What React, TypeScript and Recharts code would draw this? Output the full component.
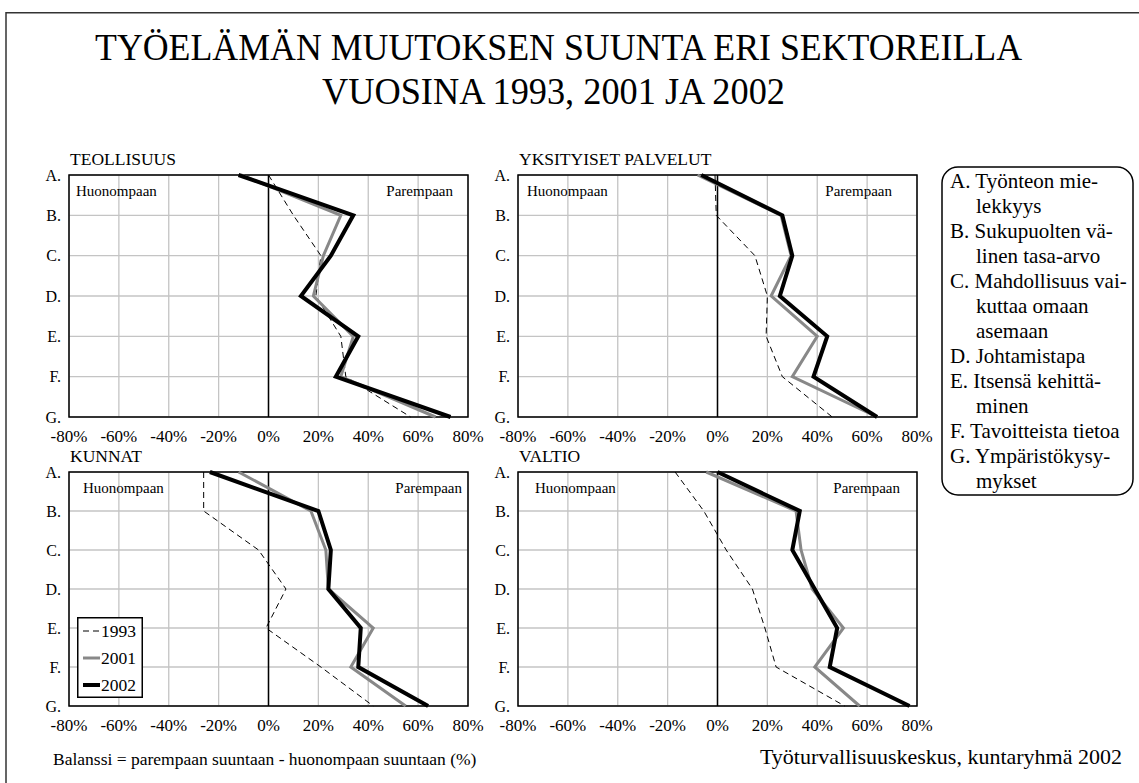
import React from 'react';
import { LineChart, Line, XAxis, YAxis, CartesianGrid, ReferenceLine, ReferenceArea, Legend } from 'recharts';

const CATEGORIES = ['A.', 'B.', 'C.', 'D.', 'E.', 'F.', 'G.'];
const CAT_INDEX = [0, 1, 2, 3, 4, 5, 6];
const X_TICKS = [-80, -60, -40, -20, 0, 20, 40, 60, 80];
const YEARS = ['1993', '2001', '2002'];

// balance values (%) per item A..G
const teollisuus1993 = [0, 10, 21, 19, 29, 31, 57];
const teollisuus2001 = [-11, 29, 22, 18, 34, 29, 67];
const teollisuus2002 = [-12, 34, 25, 13, 36, 27, 73];

const palvelut1993 = [-1, -0.5, 15, 20, 19.5, 26, 46];
const palvelut2001 = [-8, 25.5, 29.5, 21.5, 40, 30, 64];
const palvelut2002 = [-6.5, 26, 30, 25, 44, 38.5, 64];

const kunnat1993 = [-26, -26, -4, 7, -1, 21, 42];
const kunnat2001 = [-12, 17, 23, 24, 42, 33, 55];
const kunnat2002 = [-23.5, 20, 25, 24, 37, 36, 64];

const valtio1993 = [-17, -5.5, 3.5, 14, 19, 23.5, 51];
const valtio2001 = [-4.5, 31.5, 33.5, 38, 50.5, 39, 57];
const valtio2002 = [0, 33, 30, 39, 48, 45, 77];

const ITEM_LINES = [
  ['A. Työnteon mie-', 'lekkyys'],
  ['B. Sukupuolten vä-', 'linen tasa-arvo'],
  ['C. Mahdollisuus vai-', 'kuttaa omaan', 'asemaan'],
  ['D. Johtamistapa'],
  ['E. Itsensä kehittä-', 'minen'],
  ['F. Tavoitteista tietoa'],
  ['G. Ympäristökysy-', 'mykset'],
];

const SERIF = "'Liberation Serif', 'Times New Roman', serif";

const STYLE: Record<string, { stroke: string; width: number; dash?: string }> = {
  '1993': { stroke: '#000', width: 1, dash: '6 4' },
  '2001': { stroke: '#888', width: 3 },
  '2002': { stroke: '#000', width: 4 },
};

const PANELS = [
  { title: 'TEOLLISUUS', values: [teollisuus1993, teollisuus2001, teollisuus2002], left: 0, plotTop: 175, plotHeight: 242, huono: 7, pare: 15, legend: false },
  { title: 'YKSITYISET PALVELUT', values: [palvelut1993, palvelut2001, palvelut2002], left: 449, plotTop: 175, plotHeight: 242, huono: 9, pare: 25, legend: false },
  { title: 'KUNNAT', values: [kunnat1993, kunnat2001, kunnat2002], left: 0, plotTop: 472, plotHeight: 234, huono: 14, pare: 6, legend: true },
  { title: 'VALTIO', values: [valtio1993, valtio2001, valtio2002], left: 449, plotTop: 472, plotHeight: 234, huono: 17, pare: 17, legend: false },
];

const YearLegend = () => (
  <svg width={66} height={81} style={{ display: 'block', fontFamily: SERIF }}>
    <rect x={0.75} y={0.75} width={64.5} height={79.5} fill="#fff" stroke="#000" strokeWidth={1.5} />
    {YEARS.map((y, i) => (
      <g key={y}>
        <line x1={6} x2={23} y1={14 + i * 27} y2={14 + i * 27} stroke={STYLE[y].stroke}
          strokeWidth={STYLE[y].width} strokeDasharray={STYLE[y].dash} />
        <text x={24} y={14 + i * 27} dominantBaseline="central" style={{ fontFamily: SERIF, fontSize: 17.5 }} fill="#000">{y}</text>
      </g>
    ))}
  </svg>
);

const Panel = ({ p }: any) => {
  const data = CAT_INDEX.map((idx) => ({
    idx,
    y1993: p.values[0][idx],
    y2001: p.values[1][idx],
    y2002: p.values[2][idx],
  }));
  const xTick = { fill: '#000', fontSize: 17, fontFamily: SERIF, style: { fontFamily: SERIF } };
  const yTick = { fill: '#000', fontSize: 16, fontFamily: SERIF, style: { fontFamily: SERIF } };

  return (
    <div style={{ position: 'absolute', left: p.left, top: p.plotTop - 25 }}>
      <LineChart width={500} height={p.plotHeight + 58} data={data} layout="vertical"
        margin={{ top: 25, right: 32, left: 19, bottom: 3 }} style={{ fontFamily: SERIF }}>
        <CartesianGrid stroke="#c4c4c4" strokeWidth={1.3} />
        <XAxis type="number" domain={[-80, 80]} ticks={X_TICKS} interval={0} axisLine={false} tickLine={false}
          tick={xTick} tickMargin={7} tickFormatter={(v) => `${v}%`} height={30} allowDataOverflow />
        <YAxis type="number" dataKey="idx" domain={[0, 6]} ticks={CAT_INDEX} interval={0}
          axisLine={false} tickLine={false} tick={yTick} tickFormatter={(v) => CATEGORIES[v]} width={50} />
        <ReferenceArea x1={-80} x2={80} y1={0} y2={6} fill="none" stroke="#000" strokeWidth={1.5} strokeOpacity={1} fillOpacity={0} />
        <ReferenceLine x={0} stroke="#000" strokeWidth={1.5} />
        {YEARS.map((y) => (
          <Line key={y} dataKey={`y${y}`} stroke={STYLE[y].stroke} strokeWidth={STYLE[y].width}
            strokeDasharray={STYLE[y].dash} dot={false} activeDot={false} isAnimationActive={false} />
        ))}
        {p.legend && (
          <Legend layout="vertical" align="center" verticalAlign="middle" content={() => <YearLegend />}
            wrapperStyle={{ left: 77, top: 170, width: 66, height: 81 }} />
        )}
      </LineChart>
    </div>
  );
};

export default function App() {
  let line = 0;
  return (
    <div style={{ position: 'relative', width: 1139, height: 783, background: '#fff', overflow: 'hidden', fontFamily: SERIF }}>
      <style>{'body{margin:0}'}</style>
      {PANELS.map((p) => <Panel key={p.title} p={p} />)}
      <svg width={1139} height={783} style={{ position: 'absolute', left: 0, top: 0, pointerEvents: 'none', fontFamily: SERIF }}
        fill="#000">
        <path d="M6,800 L6,12.7 L1150,12.7" fill="none" stroke="#333" strokeWidth={1.5} />
        <text x={95} y={60} fontSize={38} textLength={927} lengthAdjust="spacingAndGlyphs">
          TYÖELÄMÄN MUUTOKSEN SUUNTA ERI SEKTOREILLA
        </text>
        <text x={322} y={104} fontSize={38} textLength={463} lengthAdjust="spacingAndGlyphs">
          VUOSINA 1993, 2001 JA 2002
        </text>
        {PANELS.map((p) => (
          <g key={p.title}>
            <text x={p.left + 70} y={p.plotTop - 10.5} fontSize={17.5}>{p.title}</text>
            <text x={p.left + 69 + p.huono} y={p.plotTop + 20.5} fontSize={15}>Huonompaan</text>
            <text x={p.left + 468 - p.pare} y={p.plotTop + 20.5} fontSize={15} textAnchor="end">Parempaan</text>
          </g>
        ))}
        <rect x={942} y={167} width={191} height={328} rx={16} fill="#fff" stroke="#000" strokeWidth={1.5} />
        {ITEM_LINES.map((group) =>
          group.map((t, j) => {
            const y = 188 + 25 * line++;
            return (
              <text key={t} x={j === 0 ? 950 : 976} y={y} fontSize={21}>{t}</text>
            );
          })
        )}
        <text x={53} y={765} fontSize={17.5}>Balanssi = parempaan suuntaan - huonompaan suuntaan (%)</text>
        <text x={1122} y={764} fontSize={22} textAnchor="end">Työturvallisuuskeskus, kuntaryhmä 2002</text>
      </svg>
    </div>
  );
}
